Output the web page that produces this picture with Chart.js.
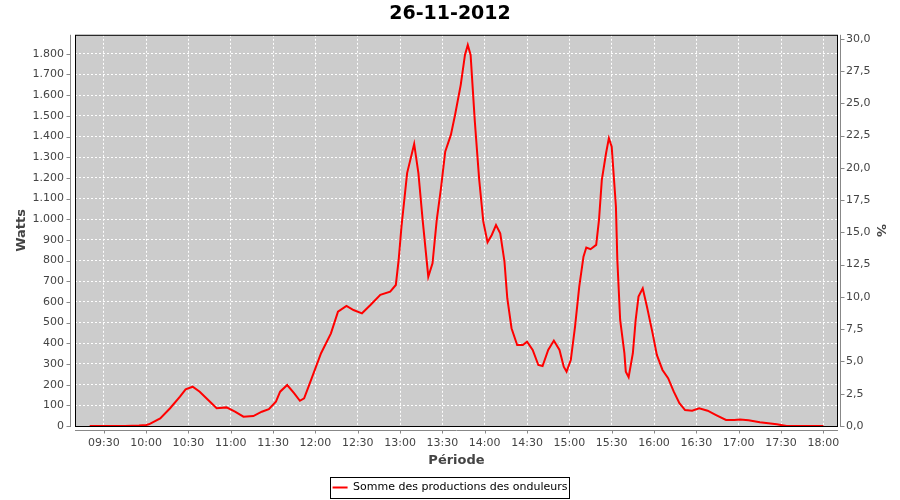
<!DOCTYPE html>
<html>
<head>
<meta charset="utf-8">
<script src="https://cdn.jsdelivr.net/npm/chart.js@4.4.1/dist/chart.umd.min.js"></script>
<style>
  body { margin: 0; background: #fff; }
  #wrap { width: 900px; height: 500px; }
</style>
</head>
<body>
<div id="wrap"><canvas id="prod" width="900" height="500"></canvas></div>
<script>
// production du 26-11-2012
const times = ['09:20','09:45','09:55','10:00','10:02','10:10','10:17','10:24','10:28','10:33',
  '10:38','10:44','10:50','10:57','11:03','11:09','11:16','11:22','11:27','11:32',
  '11:35','11:40','11:45','11:49','11:52','11:56','12:04','12:11','12:16','12:22',
  '12:27','12:33','12:39','12:46','12:53','12:57','12:59','13:01','13:05','13:10',
  '13:13','13:16','13:20','13:23','13:26','13:29','13:32','13:36','13:39','13:43',
  '13:46','13:48','13:50','13:53','13:56','13:59','14:02','14:05','14:08','14:11',
  '14:14','14:16','14:19','14:23','14:27','14:30','14:34','14:38','14:41','14:45',
  '14:49','14:53','14:56','14:58','15:01','15:04','15:07','15:10','15:12','15:15',
  '15:19','15:21','15:23','15:26','15:28','15:30','15:33','15:34','15:36','15:39',
  '15:40','15:42','15:45','15:47','15:49','15:52','15:55','15:59','16:02','16:06',
  '16:10','16:14','16:18','16:22','16:27','16:32','16:38','16:44','16:51','16:57',
  '17:01','17:07','17:15','17:27','17:34','18:00'];
const watts = [0,0,2,5,8,37,86,142,177,190,
  166,126,86,90,69,45,48,69,81,118,
  166,198,158,122,134,206,352,448,553,581,
  561,545,585,634,650,682,803,964,1223,1364,
  1223,997,722,787,997,1150,1327,1408,1505,1650,
  1795,1843,1795,1472,1198,988,889,924,972,932,
  795,618,473,392,392,408,368,295,290,368,
  413,368,287,263,319,480,674,819,863,855,
  876,997,1190,1319,1392,1351,1061,803,513,352,
  263,236,352,513,626,666,577,448,344,271,
  231,166,110,77,74,86,74,53,29,29,
  32,28,18,8,0,0];

const timeTicks = ['09:30','10:00','10:30','11:00','11:30','12:00','12:30','13:00','13:30',
  '14:00','14:30','15:00','15:30','16:00','16:30','17:00','17:30','18:00'];
const wattTicks = [0,100,200,300,400,500,600,700,800,900,1000,1100,1200,1300,1400,1500,1600,1700,1800];
const pctTicks = [0,2.5,5,7.5,10,12.5,15,17.5,20,22.5,25,27.5,30];

function toMin(s) {
    let p = s.split(':');
    return parseInt(p[0]) * 60 + parseInt(p[1]);
}
function fmtTime(m) {
    let h = Math.floor(m / 60), mm = Math.round(m % 60);
    return String(h).padStart(2, '0') + ':' + String(mm).padStart(2, '0');
}
function fmtWatt(v) {
    return String(v).replace(/\B(?=(\d{3})+(?!\d))/g, '.');
}

const tickFont = { family: 'DejaVu Sans', size: 11 };
const titleFont = { family: 'DejaVu Sans', size: 13, weight: 'bold' };
const axisGray = '#888888';

// fond gris, cadre noir, axes décalés comme JFreeChart
const plotFrame = {
    id: 'plotFrame',
    beforeDraw(chart) {
        let a = chart.chartArea, ctx = chart.ctx;
        ctx.save();
        ctx.fillStyle = '#cccccc';
        ctx.fillRect(a.left, a.top, a.right - a.left, a.bottom - a.top);
        ctx.restore();
    },
    beforeDatasetsDraw(chart) {
        let a = chart.chartArea, ctx = chart.ctx;
        ctx.save();
        ctx.strokeStyle = '#000';
        ctx.lineWidth = 1;
        ctx.strokeRect(a.left + 0.5, a.top + 0.5, a.right - a.left - 1, a.bottom - a.top);

        ctx.strokeStyle = axisGray;
        ctx.beginPath();
        // axe gauche
        let lx = a.left - 4.5;
        ctx.moveTo(lx, a.top); ctx.lineTo(lx, a.bottom + 1);
        chart.scales.y.ticks.forEach(t => {
            let py = Math.round(chart.scales.y.getPixelForValue(t.value)) + 0.5;
            ctx.moveTo(lx - 4, py); ctx.lineTo(lx, py);
        });
        // axe droit
        let rx = a.right + 2.5;
        ctx.moveTo(rx, a.top); ctx.lineTo(rx, a.bottom + 1);
        chart.scales.y1.ticks.forEach(t => {
            let py = Math.round(chart.scales.y1.getPixelForValue(t.value)) + 0.5;
            ctx.moveTo(rx, py); ctx.lineTo(rx + 4, py);
        });
        // axe du bas
        let by = Math.round(a.bottom) + 4.5;
        ctx.moveTo(a.left, by); ctx.lineTo(a.right, by);
        chart.scales.x.ticks.forEach(t => {
            let px = Math.round(chart.scales.x.getPixelForValue(t.value)) + 0.5;
            ctx.moveTo(px, by); ctx.lineTo(px, by + 3);
        });
        ctx.stroke();
        ctx.restore();
    },
    afterDraw(chart) {
        let h = chart.legend.legendHitBoxes[0];
        if (!h) return;
        let ctx = chart.ctx;
        let cy = h.top + h.height / 2;
        ctx.save();
        ctx.strokeStyle = '#000';
        ctx.lineWidth = 1;
        ctx.strokeRect(Math.round(h.left) - 2.5, Math.round(cy - 10.5) + 0.5, Math.round(h.width) + 4, 21);
        ctx.restore();
    }
};

new Chart(document.getElementById('prod'), {
    type: 'line',
    data: {
        datasets: [{
            label: 'Somme des productions des onduleurs',
            data: times.map((t, i) => ({ x: toMin(t), y: watts[i] })),
            borderColor: '#ff0000',
            backgroundColor: '#ff0000',
            borderWidth: 2,
            pointRadius: 0,
            tension: 0,
            fill: false,
            yAxisID: 'y'
        }]
    },
    options: {
        responsive: false,
        animation: false,
        events: [],
        layout: { padding: { left: 0, right: 0, top: 0, bottom: -3 } },
        scales: {
            x: {
                type: 'linear',
                min: 549.6,
                max: 1090.4,
                afterBuildTicks: s => { s.ticks = timeTicks.map(t => ({ value: toMin(t) })); },
                afterFit: s => { s.height = 53; },
                ticks: { callback: v => fmtTime(v), font: tickFont, color: '#444', padding: 11, autoSkip: false, maxRotation: 0 },
                grid: { color: '#ffffff', lineWidth: 1, drawTicks: false },
                border: { display: false, dash: [2, 2] },
                title: { display: true, text: 'Période', font: titleFont, color: '#444', padding: { top: 0, bottom: 11 } }
            },
            y: {
                position: 'left',
                min: 0,
                max: 1892,
                afterBuildTicks: s => { s.ticks = wattTicks.map(v => ({ value: v })); },
                afterFit: s => { s.width = 75; },
                ticks: { callback: v => fmtWatt(v), font: tickFont, color: '#444', padding: 11 },
                grid: { color: '#ffffff', lineWidth: 1, drawTicks: false },
                border: { display: false, dash: [2, 2] },
                title: { display: true, text: 'Watts', font: titleFont, color: '#444', padding: { top: 14, bottom: 0 } }
            },
            y1: {
                position: 'right',
                min: 0,
                max: 30.3,
                afterBuildTicks: s => { s.ticks = pctTicks.map(v => ({ value: v })); },
                afterFit: s => { s.width = 62; },
                ticks: { callback: v => v.toFixed(1).replace('.', ','), font: tickFont, color: '#444', padding: 8 },
                grid: { drawOnChartArea: false, drawTicks: false },
                border: { display: false },
                title: { display: true, text: '%', font: titleFont, color: '#444', padding: { top: 12, bottom: 0 } }
            }
        },
        plugins: {
            title: {
                display: true,
                text: '26-11-2012',
                color: '#000',
                font: { family: 'DejaVu Sans', size: 19, weight: 'bold', lineHeight: 1.2 },
                padding: { top: 3, bottom: 9 }
            },
            legend: {
                position: 'bottom',
                labels: {
                    usePointStyle: true,
                    pointStyle: 'line',
                    pointStyleWidth: 15,
                    color: '#000',
                    font: tickFont,
                    padding: 3
                }
            },
            tooltip: { enabled: false }
        }
    },
    plugins: [plotFrame]
});
</script>
</body>
</html>
